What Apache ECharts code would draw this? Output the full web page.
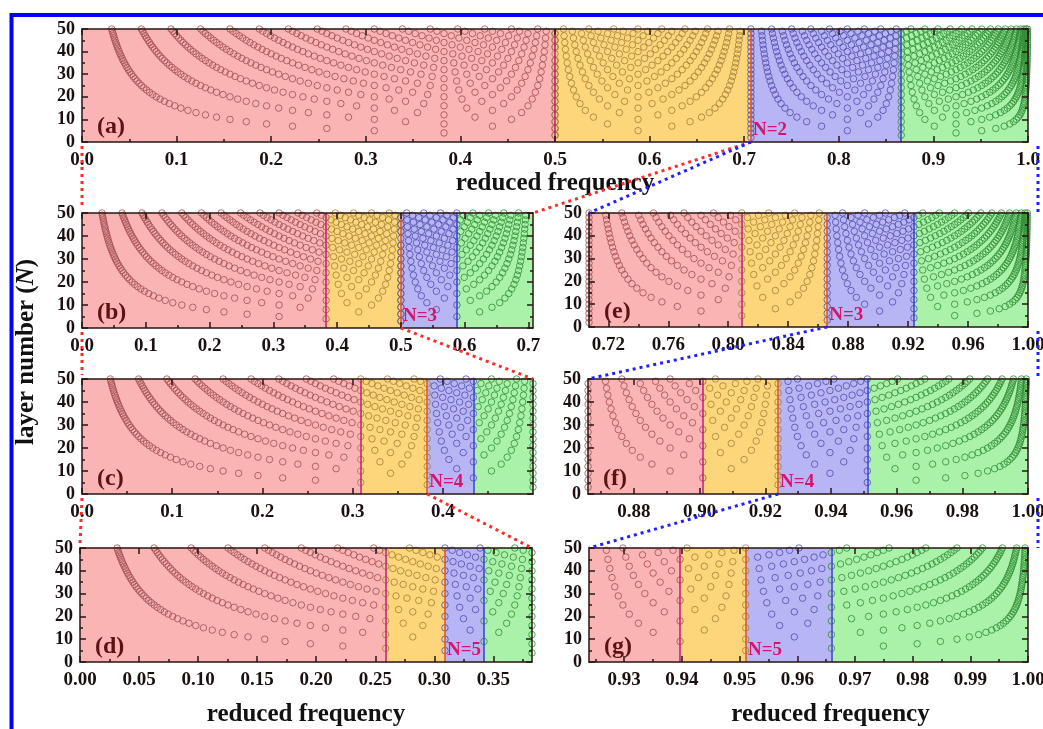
<!DOCTYPE html>
<html>
<head>
<meta charset="utf-8">
<script src="https://cdn.jsdelivr.net/npm/echarts@6/dist/echarts.min.js"></script>
<style>
  html, body { margin: 0; padding: 0; background: #fff; }
  #chart { width: 1043px; height: 729px; }
</style>
</head>
<body>
<div id="chart"></div>
<script>
// layer numbers on the y axis (every layer count drawn in the figure)
var layerNumbers = [1, 2, 3, 4, 5, 6, 7, 8, 9, 10, 11, 12, 13, 14, 15, 16, 17, 18, 19, 20,
  21, 22, 23, 24, 25, 26, 27, 28, 29, 30, 31, 32, 33, 34, 35, 36, 37, 38, 39, 40,
  41, 42, 43, 44, 45, 46, 47, 48, 49, 50];

// band edges of each panel (reduced frequency), first and last = axis range
var edgesA = [0, 0.5, 0.7071, 0.8660, 1.0];
var edgesB = [0, 0.3827, 0.5, 0.5878, 0.7071];
var edgesC = [0, 0.3090, 0.3827, 0.4339, 0.5];
var edgesD = [0, 0.2588, 0.3090, 0.3420, 0.3827];
var edgesE = [0.7071, 0.8090, 0.8660, 0.9239, 1.0];
var edgesF = [0.8660, 0.9010, 0.9239, 0.9511, 1.0];
var edgesG = [0.9239, 0.9397, 0.9511, 0.9659, 1.0];

// tick labels
var ticksA = [0, 0.1, 0.2, 0.3, 0.4, 0.5, 0.6, 0.7, 0.8, 0.9, 1.0];
var minorA = [0.05, 0.15, 0.25, 0.35, 0.45, 0.55, 0.65, 0.75, 0.85, 0.95];
var ticksB = [0, 0.1, 0.2, 0.3, 0.4, 0.5, 0.6, 0.7];
var minorB = [0.05, 0.15, 0.25, 0.35, 0.45, 0.55, 0.65];
var ticksC = [0, 0.1, 0.2, 0.3, 0.4];
var minorC = [0.05, 0.15, 0.25, 0.35, 0.45];
var ticksD = [0, 0.05, 0.10, 0.15, 0.20, 0.25, 0.30, 0.35];
var minorD = [0.025, 0.075, 0.125, 0.175, 0.225, 0.275, 0.325, 0.375];
var ticksE = [0.72, 0.76, 0.80, 0.84, 0.88, 0.92, 0.96, 1.00];
var minorE = [0.74, 0.78, 0.82, 0.86, 0.90, 0.94, 0.98];
var ticksF = [0.88, 0.90, 0.92, 0.94, 0.96, 0.98, 1.00];
var minorF = [0.87, 0.89, 0.91, 0.93, 0.95, 0.97, 0.99];
var ticksG = [0.93, 0.94, 0.95, 0.96, 0.97, 0.98, 0.99, 1.00];
var minorG = [0.925, 0.935, 0.945, 0.955, 0.965, 0.975, 0.985, 0.995];

// where each panel is cut to the next one
var zoomPoints = [0.7071, 0.5, 0.3827, 0.3090, 0.8660, 0.9239, 0.9511];
var zoomLabels = ['N=2', 'N=3', 'N=4', 'N=5', 'N=3', 'N=4', 'N=5'];
var panelNames = ['(a)', '(b)', '(c)', '(d)', '(e)', '(f)', '(g)'];

var panelEdges = [edgesA, edgesB, edgesC, edgesD, edgesE, edgesF, edgesG];
var panelTicks = [ticksA, ticksB, ticksC, ticksD, ticksE, ticksF, ticksG];
var panelMinor = [minorA, minorB, minorC, minorD, minorE, minorF, minorG];
var panelDigits = [1, 1, 1, 2, 2, 2, 2];

var gridRects = [
  {left: 82, top: 29, width: 946, height: 113},
  {left: 82, top: 213, width: 451, height: 115},
  {left: 82, top: 379, width: 451, height: 115},
  {left: 80, top: 548, width: 452, height: 114},
  {left: 589, top: 213, width: 439, height: 114},
  {left: 588, top: 379, width: 440, height: 115},
  {left: 589, top: 548, width: 439, height: 114}
];

var bandFill = ['#fbb4b4', '#fdd67c', '#b8b5f5', '#aaf2aa'];
var dotColor = ['#a04e4e', '#a08036', '#4c4cac', '#2f8c35'];
var edgeLine = ['#c2187a', '#e2541a', '#3a3ad8'];
var frameColor = '#2a1414';
var serif = 'Liberation Serif';

// eigen-modes of an N-layer stack: sin(k*pi/(2N)), k = 1..N-1
function modeFrequency(k, n) {
  return Math.sin(k * Math.PI / (2 * n));
}
var modes = [];
layerNumbers.forEach(function (n) {
  for (var k = 1; k < n; k++) modes.push([modeFrequency(k, n), n]);
});

var chart = echarts.init(document.getElementById('chart'));
var option = {animation: false, grid: [], xAxis: [], yAxis: [], series: []};
var bandSeriesIndex = [];

panelEdges.forEach(function (edges, i) {
  var xMin = edges[0], xMax = edges[edges.length - 1];
  var r = gridRects[i];
  option.grid.push({left: r.left, top: r.top, width: r.width, height: r.height,
    containLabel: false, outerBoundsMode: 'none'});
  var xi = option.xAxis.length, yi = option.yAxis.length;
  var digits = panelDigits[i];
  var lineStyle = {color: frameColor, width: 1.5};
  option.xAxis.push({
    gridIndex: i, type: 'value', min: xMin, max: xMax, position: 'bottom', z: 10,
    axisLine: {show: true, onZero: false, lineStyle: lineStyle},
    axisTick: {show: true, inside: true, length: 6, customValues: panelTicks[i], lineStyle: lineStyle},
    axisLabel: {show: true, customValues: panelTicks[i], margin: 9, fontFamily: serif,
      fontWeight: 'bold', fontSize: 19, color: '#1a1010',
      formatter: function (v) { return v.toFixed(digits); }},
    splitLine: {show: false}
  });
  option.xAxis.push({
    gridIndex: i, type: 'value', min: xMin, max: xMax, position: 'bottom', z: 10,
    axisLine: {show: false},
    axisTick: {show: true, inside: true, length: 3, customValues: panelMinor[i], lineStyle: lineStyle},
    axisLabel: {show: false}, splitLine: {show: false}
  });
  option.xAxis.push({
    gridIndex: i, type: 'value', min: xMin, max: xMax, position: 'top', z: 10,
    axisLine: {show: true, onZero: false, lineStyle: lineStyle},
    axisTick: {show: true, inside: true, length: 6, customValues: panelTicks[i], lineStyle: lineStyle},
    axisLabel: {show: false}, splitLine: {show: false}
  });
  ['left', 'right'].forEach(function (pos) {
    option.yAxis.push({
      gridIndex: i, type: 'value', min: 0, max: 50, interval: 10, position: pos, z: 10,
      axisLine: {show: true, onZero: false, lineStyle: lineStyle},
      axisTick: {show: true, inside: true, length: 6, lineStyle: lineStyle},
      minorTick: {show: true, splitNumber: 2, length: 3, lineStyle: lineStyle},
      axisLabel: {show: pos === 'left', margin: 7, fontFamily: serif, fontWeight: 'bold',
        fontSize: 18, color: '#1a1010'},
      splitLine: {show: false}, minorSplitLine: {show: false}
    });
  });

  var areas = [], lines = [];
  for (var b = 0; b < 4; b++) {
    areas.push([{xAxis: edges[b], itemStyle: {color: bandFill[b]}}, {xAxis: edges[b + 1]}]);
    if (b > 0) lines.push({xAxis: edges[b], lineStyle: {color: edgeLine[b - 1], width: 1.5, type: 'solid'}});
  }
  bandSeriesIndex.push(option.series.length);
  option.series.push({
    type: 'scatter', xAxisIndex: xi, yAxisIndex: yi, data: [[xMin, 0]], symbolSize: 0,
    silent: true, z: 1,
    markArea: {silent: true, precision: 6, data: areas},
    markLine: {silent: true, precision: 6, symbol: ['none', 'none'], label: {show: false}, data: lines}
  });
  for (var bb = 0; bb < 4; bb++) {
    var lo = edges[bb], hi = edges[bb + 1];
    var pts = modes.filter(function (m) {
      return m[0] >= lo - 1e-9 && (bb === 3 ? m[0] <= hi + 1e-9 : m[0] < hi);
    });
    option.series.push({
      type: 'scatter', xAxisIndex: xi, yAxisIndex: yi, data: pts, z: 3, silent: true,
      symbol: 'circle', symbolSize: 6.5,
      itemStyle: {color: 'rgba(0,0,0,0)', borderColor: dotColor[bb], borderWidth: 1}
    });
  }
});

chart.setOption(option);

// decorations placed from the axes' own scales
function pt(i, x, y) {
  return chart.convertToPixel({seriesIndex: bandSeriesIndex[i]}, [x, y]);
}
var graphics = [];
graphics.push({type: 'rect', z: 50, shape: {x: 11.5, y: 15, width: 1050, height: 740},
  style: {fill: 'none', stroke: '#0000ff', lineWidth: 4}});

panelEdges.forEach(function (edges, i) {
  var p0 = pt(i, edges[0], 0);
  graphics.push({type: 'text', z: 60, x: p0[0] + 15, y: p0[1] - 15,
    style: {text: panelNames[i], font: 'bold 24px "Liberation Serif"', fill: '#5c1212',
      textVerticalAlign: 'middle'}});
  var pz = pt(i, zoomPoints[i], 0);
  graphics.push({type: 'text', z: 60, x: pz[0] + 2, y: pz[1] - 12,
    style: {text: zoomLabels[i], font: 'bold 19px "Liberation Serif"', fill: '#d0176a',
      textVerticalAlign: 'middle'}});
});

function dotted(color, a, b) {
  graphics.push({type: 'line', z: 80,
    shape: {x1: a[0], y1: a[1], x2: b[0], y2: b[1]},
    style: {stroke: color, lineWidth: 3, lineDash: [3, 4]}});
}
var red = '#ff2a2a', blue = '#1f1fff';
// lower part zooms (red): a->b, b->c, c->d ; upper part zooms (blue): a->e, e->f, f->g
[[0, 1], [1, 2], [2, 3]].forEach(function (pr) {
  var s = pr[0], t = pr[1];
  var eS = panelEdges[s], eT = panelEdges[t];
  var sLeft = pt(s, eS[0], 0), tLeft = pt(t, eT[0], 50);
  dotted(red, [sLeft[0], sLeft[1] + 4], [tLeft[0], tLeft[1] - 4]);
  dotted(red, pt(s, zoomPoints[s], 0), pt(t, eT[4], 50));
});
[[0, 4], [4, 5], [5, 6]].forEach(function (pr) {
  var s = pr[0], t = pr[1];
  var eS = panelEdges[s], eT = panelEdges[t];
  dotted(blue, pt(s, zoomPoints[s], 0), pt(t, eT[0], 50));
  var sRight = pt(s, eS[4], 0), tRight = pt(t, eT[4], 50);
  dotted(blue, [sRight[0] + 10, sRight[1] + 4], [tRight[0] + 10, tRight[1]]);
});

var titleFont = 'bold 25px "Liberation Serif"';
[[0, 184], [3, 715], [6, 715]].forEach(function (tp) {
  var e = panelEdges[tp[0]];
  var l = pt(tp[0], e[0], 0), r = pt(tp[0], e[4], 0);
  var cx = (l[0] + r[0]) / 2 + (tp[0] === 6 ? 22 : 0);
  graphics.push({type: 'text', z: 60, x: cx, y: tp[1],
    style: {text: 'reduced frequency', font: titleFont, fill: '#111',
      textAlign: 'center', textVerticalAlign: 'middle'}});
});
graphics.push({type: 'text', z: 60, x: 27, y: 352, rotation: Math.PI / 2,
  style: {text: 'layer number ({i|N})', font: titleFont, fill: '#111',
    textAlign: 'center', textVerticalAlign: 'middle',
    rich: {i: {fontStyle: 'italic', fontWeight: 'bold', fontSize: 25, fontFamily: serif}}}});

chart.setOption({graphic: graphics});
</script>
</body>
</html>
